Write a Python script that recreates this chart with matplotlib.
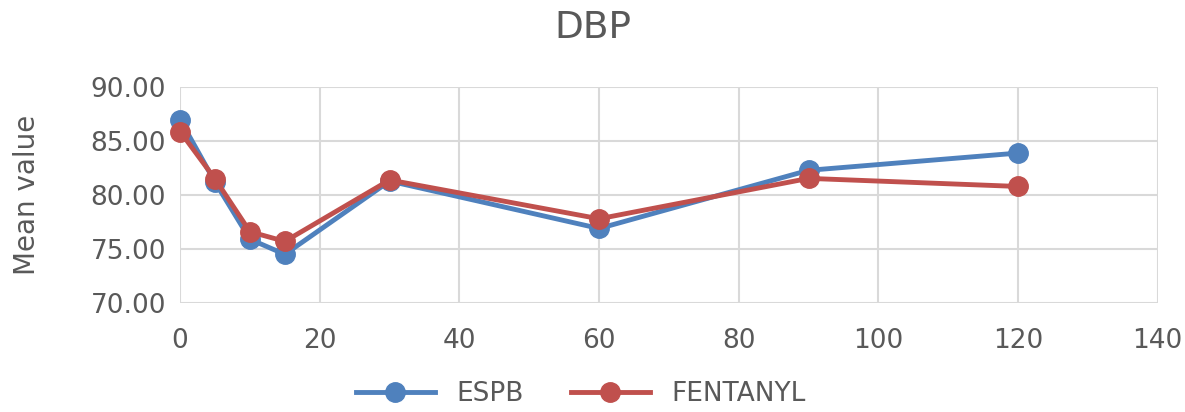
import matplotlib.pyplot as plt

time_points = [0, 5, 10, 15, 30, 60, 90, 120]
espb = [87.0, 81.2, 75.9, 74.5, 81.3, 76.9, 82.3, 83.9]
fentanyl = [85.9, 81.5, 76.6, 75.7, 81.4, 77.8, 81.55, 80.8]

y_ticks = [70, 75, 80, 85, 90]
x_ticks = [0, 20, 40, 60, 80, 100, 120, 140]

text_color = "#595959"

fig = plt.figure(figsize=(11.85, 4.12), dpi=100)
ax = fig.add_axes([0.152, 0.265, 0.825, 0.523])

ax.plot(time_points, espb, color="#4F81BD", lw=3.5, marker="o", ms=14,
        label="ESPB", zorder=3, clip_on=False)
ax.plot(time_points, fentanyl, color="#C0504D", lw=3.5, marker="o", ms=14,
        label="FENTANYL", zorder=4, clip_on=False)

ax.set_xlim(0, 140)
ax.set_ylim(70, 90)
ax.set_xticks(x_ticks)
ax.set_yticks(y_ticks)
ax.set_yticklabels([f"{v:.2f}" for v in y_ticks])
ax.tick_params(axis="y", length=0, labelsize=19, colors=text_color, pad=10)
ax.tick_params(axis="x", length=0, labelsize=19, colors=text_color, pad=18)
ax.grid(True, color="#D9D9D9", lw=1.5, zorder=0)
ax.set_axisbelow(True)
for s in ax.spines.values():
    s.set_visible(False)

ax.set_ylabel("Mean value", fontsize=20, color=text_color)
ax.yaxis.set_label_coords(-0.142, 0.5)
fig.suptitle("DBP", fontsize=27, color=text_color, y=0.975)

fig.legend(loc="lower center", bbox_to_anchor=(0.49, -0.045), ncol=2, frameon=False,
           fontsize=19, handlelength=3, columnspacing=1.8, labelcolor=text_color)

fig.savefig("out.png", dpi=100)
